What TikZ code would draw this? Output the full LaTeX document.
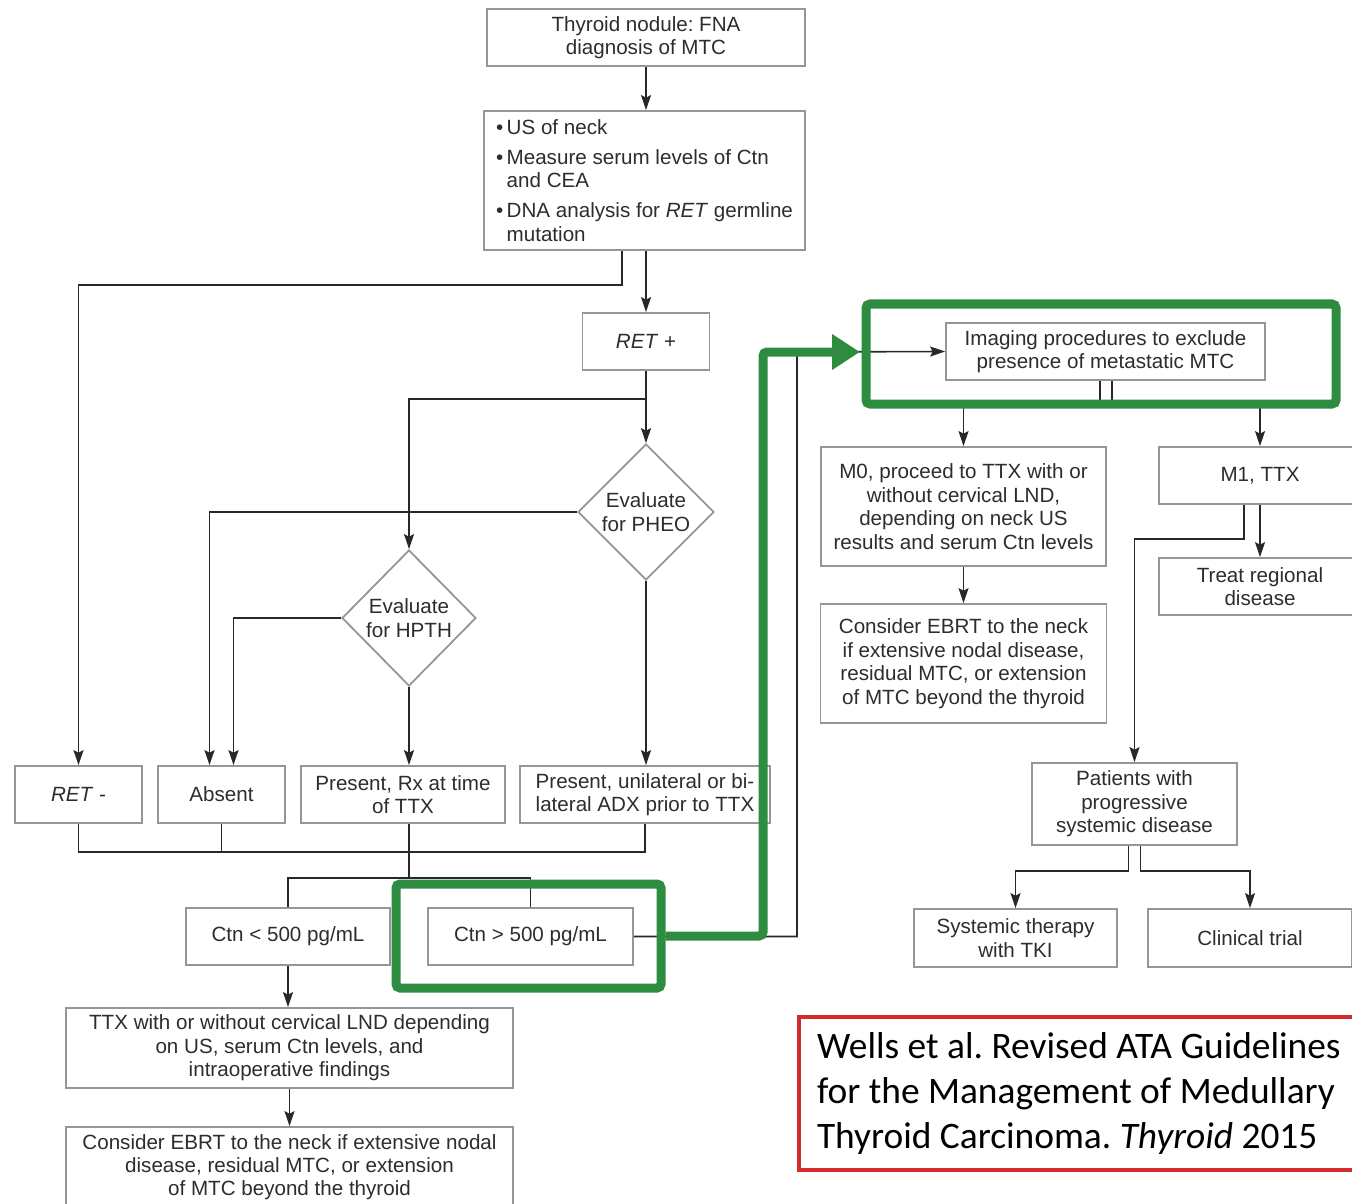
\documentclass[tikz,border=0pt]{standalone}
\usepackage{fontspec}
\setmainfont{Liberation Sans}
\newfontfamily\citefont{Carlito}
\usetikzlibrary{positioning,shapes.geometric,arrows.meta}
\definecolor{boxgray}{RGB}{150,150,150}
\definecolor{linegray}{RGB}{40,40,40}
\definecolor{txtgray}{RGB}{45,45,45}
\definecolor{hlgreen}{RGB}{46,140,64}
\definecolor{citered}{RGB}{211,43,43}
\newcommand\flowfont{\fontsize{10.3}{11.8}\selectfont}
\frenchspacing
\tikzset{
  box/.style={draw=boxgray, line width=0.9pt, fill=white, align=center, font=\flowfont, text=txtgray, inner sep=0pt},
  wh/.style 2 args={minimum width={#1*0.5pt}, minimum height={#2*0.5pt}},
  decision/.style={box, diamond, aspect=1},
  link/.style={draw=linegray, line width=0.8pt},
  arr/.style={link, -{Stealth[length=7.5pt,width=5pt,inset=1.3pt]}},
  hlbox/.style={draw=hlgreen, line width=4.5pt, rounded corners=2pt, inner sep=0pt},
  hlarr/.style={draw=hlgreen, line width=4.5pt, rounded corners=2pt, -{Triangle[length=14pt,width=17pt]}},
}

\begin{document}
\begin{tikzpicture}[x=0.5pt, y=-0.5pt]
	\path[use as bounding box] (0,0) rectangle (1352,1203);
	\clip (0,0) rectangle (1352,1203);

	% left column
	\node[box, wh={318}{57}] (fna) at (646,37.5) {Thyroid nodule: FNA\\diagnosis of MTC};
	\node[box, wh={321}{139}, align=left] (us) at (644.5,180.5)
		{\textbullet\,US of neck\\[3.2pt]
		 \textbullet\,Measure serum levels of Ctn\\
		 \hphantom{\textbullet\,}and CEA\\[3.2pt]
		 \textbullet\,DNA analysis for \textit{RET} germline\\
		 \hphantom{\textbullet\,}mutation};
	\node[box, wh={127}{57}] (retp) at (646,341.5) {\textit{RET} +};
	\node[decision, wh={136}{136}] (pheo) at (646,512) {Evaluate\\for PHEO};
	\node[decision, wh={134}{136}] (hpth) at (409,618) {Evaluate\\for HPTH};

	\node[box, wh={127}{57}] (retn) at (78.5,794.5) {\textit{RET} -};
	\node[box, wh={127}{57}, right=7.1pt of retn] (absent) {Absent};
	\node[box, wh={204}{57}, right=7.1pt of absent] (rx) {Present, Rx at time\\of TTX};
	\node[box, wh={250}{57}, right=6.6pt of rx] (adx) {Present, unilateral or bi-\\lateral ADX prior to TTX};

	\node[box, wh={204}{57}] (ctnlo) at (288,936.5) {Ctn < 500 pg/mL};
	\node[box, wh={205}{57}, right=18.1pt of ctnlo] (ctnhi) {Ctn > 500 pg/mL};
	\node[box, wh={447}{80}] (ttx) at (289.5,1048) {TTX with or without cervical LND depending\\on US, serum Ctn levels, and\\intraoperative findings};
	\node[box, wh={447}{80}, below=18.6pt of ttx, font=\fontsize{10.3}{11.4}\selectfont] (ebrtl) {Consider EBRT to the neck if extensive nodal\\disease, residual MTC, or extension\\of MTC beyond the thyroid};

	% right column
	\node[box, wh={319}{57}] (img) at (1105.5,351.5) {Imaging procedures to exclude\\presence of metastatic MTC};
	\node[box, wh={285}{119}] (mzero) at (963.5,506.5) {M0, proceed to TTX with or\\without cervical LND,\\depending on neck US\\results and serum Ctn levels};
	\node[box, wh={286}{119}, below=18.1pt of mzero] (ebrtr) {Consider EBRT to the neck\\if extensive nodal disease,\\residual MTC, or extension\\of MTC beyond the thyroid};
	\node[box, wh={202}{57}] (mone) at (1260,475.5) {M1, TTX};
	\node[box, wh={202}{57}, below=26.1pt of mone] (treat) {Treat regional\\disease};
	\node[box, wh={205}{82}] (prog) at (1134.5,804) {Patients with\\progressive\\systemic disease};
	\node[box, wh={203}{58}] (systki) at (1015.5,938) {Systemic therapy\\with TKI};
	\node[box, wh={204}{58}] (trial) at (1250,938) {Clinical trial};

	\draw[arr] (fna.south) -- (fna.south |- us.north);
	\draw[arr] (retp.north |- us.south) -- (retp.north);
	\draw[arr] ([xshift=-11.25pt]us.south) -- ++(0,34) -| (retn.north);
	\draw[arr] (retp.south) -- (pheo.north);
	\draw[arr] (retp.south) -- ++(0,28) -| (hpth.north);
	\draw[arr] (pheo.west) -| ([xshift=-6pt]absent.north);
	\draw[arr] (hpth.west) -| ([xshift=6pt]absent.north);
	\draw[arr] (pheo.south) -- (pheo.south |- adx.north);
	\draw[arr] (hpth.south) -- (hpth.south |- rx.north);

	\coordinate (join) at (409,852);
	\coordinate (fork) at (409,878);
	\draw[link] (retn.south) |- (join) -| (adx.south);
	\draw[link] (absent.south) -- (absent.south |- join);
	\draw[link] (rx.south -| join) -- (fork);
	\draw[link] (ctnlo.north) |- (fork) -| (ctnhi.north);
	\draw[arr] (ctnlo.south) -- (ctnlo.south |- ttx.north);
	\draw[arr] (ttx.south) -- (ebrtl.north);

	\coordinate (back) at (797,352);
	\draw[arr] (ctnhi.east) -| (back) -- (img.west);
	\draw[arr] ([xshift=-2.75pt]img.south) -- ++(0,23) -| (mzero.north);
	\draw[arr] ([xshift=3.25pt]img.south) -- ++(0,23) -| (mone.north);
	\draw[arr] (mzero.south) -- (ebrtr.north);
	\draw[arr] (mone.south) -- (treat.north);
	\draw[arr] ([xshift=-8pt]mone.south) -- ++(0,34) -| (prog.north);
	\draw[arr] ([xshift=-3pt]prog.south) -- ++(0,25) -| (systki.north);
	\draw[arr] ([xshift=3pt]prog.south) -- ++(0,25) -| (trial.north);

	% highlights
	\node[hlbox, wh={265}{104}] (hlctn) at (528.5,936) {};
	\node[hlbox, wh={470}{100}] (hlimg) at (1101,354) {};
	\coordinate (gturn) at (763,352);
	\coordinate (gtip) at (860,352);
	\draw[hlarr] (hlctn.east) -| (gturn) -- (gtip);

	\node[draw=citered, line width=2pt, anchor=north west, minimum height=76.5pt,
		inner xsep=9pt, align=left, font=\citefont\fontsize{18.7}{22.5}\selectfont] (cite)
		at (797,1015) {Wells et al. Revised ATA Guidelines\\for the Management of Medullary\\Thyroid Carcinoma. \textit{Thyroid} 2015};
\end{tikzpicture}
\end{document}
